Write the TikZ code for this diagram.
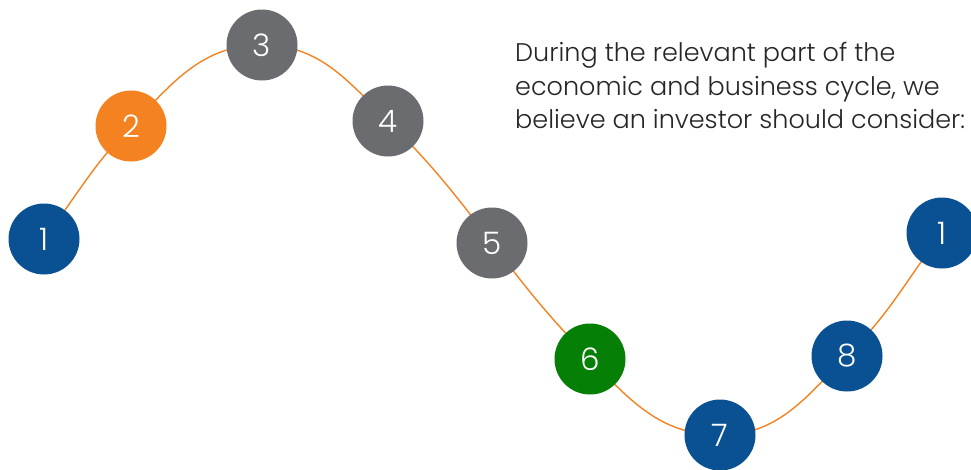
\documentclass[tikz,border=0pt]{standalone}
\usepackage{fontspec}
\setmainfont{Poppins Light}
\usepackage{tikz}
\usetikzlibrary{backgrounds}

\definecolor{cycblue}{HTML}{0A5194}
\definecolor{cycorange}{HTML}{F58220}
\definecolor{cycgray}{HTML}{6B6C70}
\definecolor{cycgreen}{HTML}{057F05}

\begin{document}
\begin{tikzpicture}[x=1pt, y=1pt, inner sep=0mm,
  stage/.style={circle, minimum size=71pt, text=white, font=\fontsize{31}{31}\selectfont},
  wave/.style={draw=cycorange, line width=1.4pt}]
\useasboundingbox (0,0) rectangle (971,-469);
\node (s1) at (44,-239) [stage, fill=cycblue] {1};
\node (s2) at (131,-126) [stage, fill=cycorange] {2};
\node (s3) at (262,-45) [stage, fill=cycgray] {3};
\node (s4) at (388,-121) [stage, fill=cycgray] {4};
\node (s5) at (492,-243) [stage, fill=cycgray] {5};
\node (s6) at (590,-359) [stage, fill=cycgreen] {6};
\node (s7) at (720,-435) [stage, fill=cycblue] {7};
\node (s8) at (847,-356) [stage, fill=cycblue] {8};
\node (s1b) at (942,-233) [stage, fill=cycblue] {1};
\begin{scope}[on background layer]
\draw[wave] (s1.center) to[out=53,in=-134] (s2.center)
  to[out=46,in=180] (s3.center)
  to[out=0,in=135] (s4.center)
  to[out=-45,in=127] (s5.center)
  to[out=-53,in=134] (s6.center)
  to[out=-46,in=180] (s7.center)
  to[out=0,in=-135] (s8.center)
  to[out=45,in=-127] (s1b.center);
\end{scope}
\node (note) at (515,-42) [anchor=north west, align=left, text=black!85,
  font=\fontsize{25.5}{33.5}\selectfont]
  {During the relevant part of the\\economic and business cycle, we\\believe an investor should consider:};
\end{tikzpicture}
\end{document}
